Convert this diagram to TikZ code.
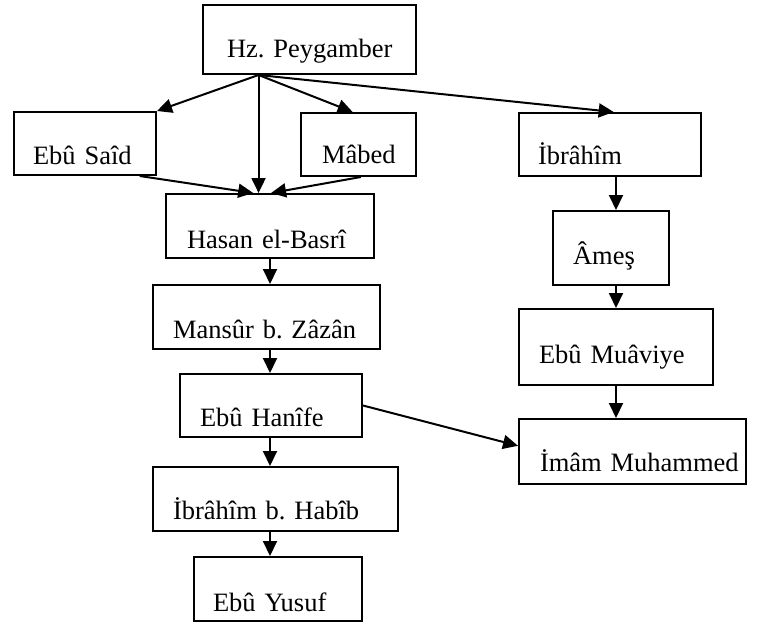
\documentclass[tikz,border=0pt]{standalone}
\usepackage{fontspec}
\setmainfont{Liberation Serif}
\usetikzlibrary{arrows.meta,calc}
\frenchspacing

% A person box: the name sits low and left in the frame, as in a
% hand-drawn chain of transmission.
% pbox={width}{height above baseline}{depth below baseline}{left padding}
\tikzset{
  pbox/.style n args={4}{
    draw, line width=2pt, anchor=north west, inner sep=0pt,
    text width=#1pt, text height=#2pt, text depth=#3pt, align=left,
    font=\fontsize{26.5}{30}\selectfont,
    execute at begin node={\hspace*{#4pt}}
  },
  link/.style={line width=2pt, -{Triangle[length=15pt,width=14pt]}}
}

\begin{document}
\begin{tikzpicture}[x=1pt,y=-1pt]
\useasboundingbox (0,0) rectangle (768,626);

% left chain
\node[pbox={213}{53}{16}{24}] (hz)      at (202,4)   {Hz. Peygamber};
\node[pbox={142}{52}{11}{19}] (said)    at (13,111)  {Ebû Saîd};
\node[pbox={115}{50}{13}{21}] (mabed)   at (300,112) {Mâbed};
\node[pbox={208}{54}{10}{21}] (hasan)   at (165,193) {Hasan el-Basrî};
\node[pbox={227}{53}{11}{20}] (mansur)  at (152,284) {Mansûr b. Zâzân};
\node[pbox={182}{52}{11}{20}] (hanife)  at (179,373) {Ebû Hanîfe};
\node[pbox={245}{52}{12}{20}] (habib)   at (152,466) {İbrâhîm b. Habîb};
\node[pbox={168}{54}{10}{19}] (yusuf)   at (193,556) {Ebû Yusuf};

% right chain
\node[pbox={182}{51}{12}{19}] (ibrahim) at (518,112) {İbrâhîm};
\node[pbox={116}{53}{21}{20}] (ames)    at (552,210) {Âmeş};
\node[pbox={194}{54}{22}{20}] (muaviye) at (518,308) {Ebû Muâviye};
\node[pbox={227}{52}{13}{21}] (imam)    at (518,418) {İmâm Muhammed};

% all links from the Prophet leave from one point of his box
\coordinate (hzout) at ($(hz.south west)!0.263!(hz.south east)$);

\draw[link] (hzout) -- (said.north east);
\draw[link] (hzout) -- (hzout |- hasan.north);
\draw[link] (hzout) -- ($(mabed.north west)!0.45!(mabed.north east)$);
\draw[link] (hzout) -- ($(ibrahim.north west)!0.52!(ibrahim.north east)$);

\draw[link] ($(said.south west)!0.88!(said.south east)$)
         -- ($(hasan.north west)!0.42!(hasan.north east)$);
\draw[link] ($(mabed.south west)!0.52!(mabed.south east)$)
         -- ($(hasan.north west)!0.505!(hasan.north east)$);

\draw[link] (hasan.south)  -- (hasan.south |- mansur.north);
\draw[link] (hasan.south |- mansur.south) -- (hasan.south |- hanife.north);
\draw[link] (hasan.south |- hanife.south) -- (hasan.south |- habib.north);
\draw[link] (hasan.south |- habib.south)  -- (hasan.south |- yusuf.north);

\draw[link] (muaviye.north |- ibrahim.south) -- (muaviye.north |- ames.north);
\draw[link] (muaviye.north |- ames.south)    -- (muaviye.north);
\draw[link] (muaviye.south) -- (muaviye.south |- imam.north);

\draw[link] (hanife.east) -- ($(imam.north west)!0.415!(imam.south west)$);
\end{tikzpicture}
\end{document}
